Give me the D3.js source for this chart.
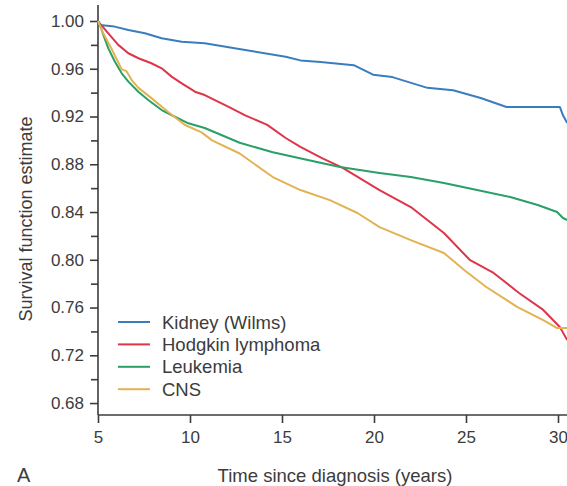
<!DOCTYPE html>
<html>
<head>
<meta charset="utf-8">
<script src="https://cdn.jsdelivr.net/npm/d3@7"></script>
<style>
  body { margin: 0; background: #fff; }
  svg { display: block; font-family: "Liberation Sans", Arial, sans-serif; }
  .axis text { fill: #3c3c3c; font-size: 17px; }
  .axis line, .axis path { stroke: #3c3c3c; stroke-width: 1.6px; }
</style>
</head>
<body>
<div id="chart"></div>
<script>
// series: [years since diagnosis, survival estimate]
const kidney = [
  [5, 1.0], [5.1, 0.9966], [5.9, 0.9953], [6.65, 0.9925], [7.55, 0.9897], [8.46, 0.9855],
  [9.55, 0.9827], [10.8, 0.9813], [13.0, 0.9757], [15.2, 0.970], [16.0, 0.967],
  [17.1, 0.9657], [18.9, 0.963], [19.95, 0.955], [21.0, 0.953], [22.9, 0.944],
  [24.3, 0.942], [25.8, 0.9355], [27.2, 0.928], [30.1, 0.928], [30.27, 0.921], [30.5, 0.9146]
];
const hodgkin = [
  [5, 1.0], [5.1, 0.998], [5.56, 0.9897], [6.1, 0.980], [6.65, 0.973], [7.2, 0.9688],
  [7.9, 0.9646], [8.46, 0.9604], [9.0, 0.9534], [9.55, 0.9478], [10.27, 0.9408],
  [10.8, 0.938], [12.1, 0.928], [13.0, 0.921], [14.2, 0.913], [15.2, 0.902],
  [16.0, 0.8945], [17.2, 0.885], [18.3, 0.877], [20.3, 0.8584], [22.0, 0.8442],
  [23.8, 0.8224], [25.2, 0.80], [26.5, 0.789], [27.9, 0.772], [29.2, 0.758],
  [30.1, 0.7437], [30.5, 0.7328]
];
const leukemia = [
  [5, 1.0], [5.11, 0.9966], [5.29, 0.9883], [5.56, 0.9771], [5.92, 0.9659], [6.29, 0.9562],
  [6.65, 0.9492], [7.19, 0.9408], [7.73, 0.9338], [8.46, 0.9254], [9.18, 0.9198],
  [9.91, 0.9143], [10.8, 0.9104], [12.7, 0.898], [14.5, 0.890], [16.4, 0.8836],
  [18.15, 0.8777], [20.3, 0.8727], [22.0, 0.8693], [23.8, 0.8643], [25.6, 0.8584],
  [27.4, 0.8526], [28.9, 0.8459], [29.95, 0.84], [30.27, 0.835], [30.5, 0.8333]
];
const cns = [
  [5, 1.0], [5.29, 0.9895], [5.74, 0.9765], [6.29, 0.9595], [6.55, 0.9580], [6.83, 0.9505],
  [7.2, 0.9440], [7.92, 0.9352], [8.8, 0.924], [9.73, 0.9129], [10.63, 0.9067],
  [11.2, 0.900], [12.7, 0.889], [14.5, 0.8693], [16.0, 0.8584], [17.6, 0.850],
  [19.1, 0.8392], [20.3, 0.8274], [22.0, 0.8165], [23.8, 0.8057], [24.9, 0.7914],
  [26.1, 0.7772], [27.8, 0.7604], [29.2, 0.7495], [29.95, 0.7428], [30.5, 0.7428]
];

const seriesNames = ["Kidney (Wilms)", "Hodgkin lymphoma", "Leukemia", "CNS"];
const seriesColors = ["#3a7dbf", "#de3549", "#2a9f66", "#e3b253"];
const seriesData = [kidney, hodgkin, leukemia, cns];

const xTicks = [5, 10, 15, 20, 25, 30];
const yTicks = [0.68, 0.72, 0.76, 0.80, 0.84, 0.88, 0.92, 0.96, 1.00];
const yMinorTicks = [0.70, 0.74, 0.78, 0.82, 0.86, 0.90, 0.94, 0.98];

const width = 600, height = 486;

const svg = d3.select("#chart").append("svg")
  .attr("width", width)
  .attr("height", height);

// scales (the plot is cut off on the right, like the original figure)
const x = d3.scaleLinear().domain([5, 32]).range([98, 98 + 27 * 18.4]);
const y = d3.scaleLinear().domain([0.67, 1.0134]).range([415, 5]);

// y axis, major + minor ticks
svg.append("g")
  .attr("class", "axis")
  .attr("transform", "translate(98,0)")
  .call(d3.axisLeft(y).tickValues(yTicks).tickSize(8).tickPadding(6).tickFormat(d3.format(".2f")))
  .call(g => g.select(".domain").attr("d", "M0," + y.range()[0] + "V" + y.range()[1]));

svg.append("g")
  .attr("class", "axis")
  .attr("transform", "translate(98,0)")
  .call(d3.axisLeft(y).tickValues(yMinorTicks).tickSize(7).tickFormat(""))
  .call(g => g.select(".domain").remove());

// x axis
svg.append("g")
  .attr("class", "axis")
  .attr("transform", "translate(0,415)")
  .call(d3.axisBottom(x).tickValues(xTicks).tickSize(8).tickPadding(8).tickFormat(d3.format("d")))
  .call(g => g.select(".domain").attr("d", "M" + x.range()[0] + ",0H" + x.range()[1]));

// curves
const line = d3.line()
  .x(d => x(d[0]))
  .y(d => y(d[1]));

svg.selectAll(".curve")
  .data(seriesData)
  .enter().append("path")
  .attr("class", "curve")
  .attr("d", line)
  .attr("fill", "none")
  .attr("stroke", (d, i) => seriesColors[i])
  .attr("stroke-width", 2)
  .attr("stroke-linejoin", "round");

// legend
const legend = svg.append("g")
  .attr("transform", "translate(118,322)");

const item = legend.selectAll(".item")
  .data(seriesNames)
  .enter().append("g")
  .attr("class", "item")
  .attr("transform", (d, i) => "translate(0," + i * 22.4 + ")");

item.append("line")
  .attr("x1", 0).attr("x2", 32)
  .attr("stroke", (d, i) => seriesColors[i])
  .attr("stroke-width", 2);

item.append("text")
  .attr("x", 44)
  .attr("dy", "0.36em")
  .style("font-size", "18.5px")
  .style("fill", "#3c3c3c")
  .text(d => d);

// titles
svg.append("text")
  .attr("transform", "translate(32,219) rotate(-90)")
  .attr("text-anchor", "middle")
  .style("font-size", "18px")
  .style("fill", "#3c3c3c")
  .text("Survival function estimate");

svg.append("text")
  .attr("x", 335)
  .attr("y", 482)
  .attr("text-anchor", "middle")
  .style("font-size", "18.5px")
  .style("fill", "#3c3c3c")
  .text("Time since diagnosis (years)");

svg.append("text")
  .attr("x", 17)
  .attr("y", 482)
  .style("font-size", "20px")
  .style("fill", "#3c3c3c")
  .text("A");
</script>
</body>
</html>
